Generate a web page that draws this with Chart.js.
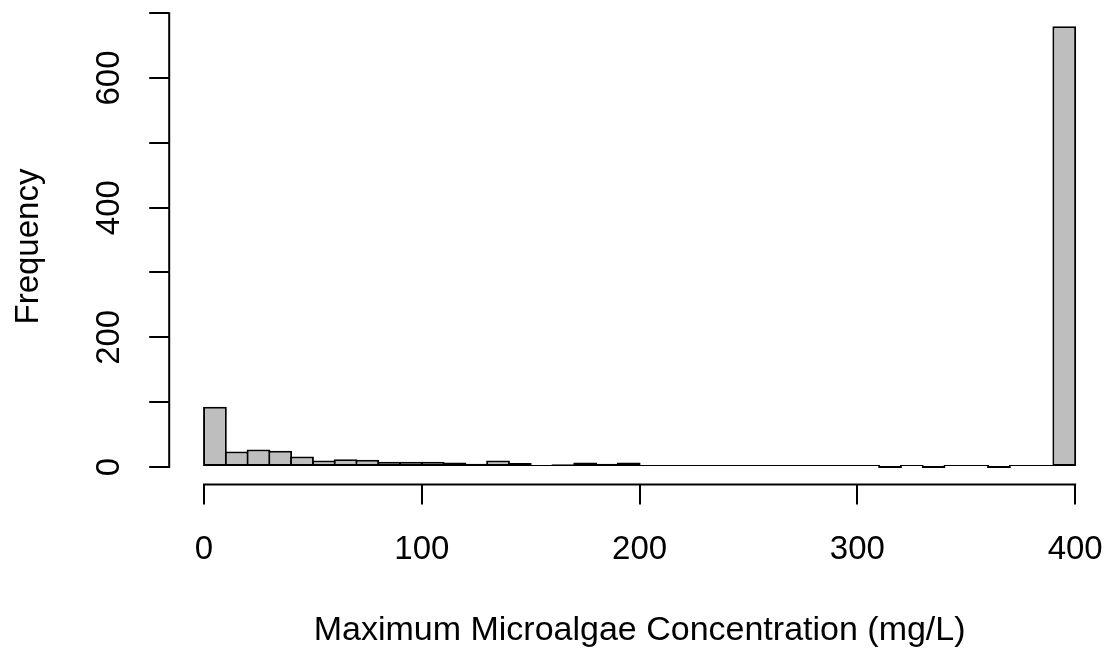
<!DOCTYPE html>
<html>
<head>
<meta charset="utf-8">
<script src="https://cdn.jsdelivr.net/npm/chart.js@4.4.1/dist/chart.umd.min.js"></script>
<style>
  body { margin: 0; background: #fff; }
  canvas { display: block; }
</style>
</head>
<body>
<canvas id="hist-chart" width="1112" height="649"></canvas>
<script>
// histogram bins (10 mg/L wide) and their counts
const binWidth = 10;
const binStarts = [0, 10, 20, 30, 40, 50, 60, 70, 80, 90,
                   100, 110, 120, 130, 140, 150, 160, 170, 180, 190,
                   200, 210, 220, 230, 240, 250, 260, 270, 280, 290,
                   300, 310, 320, 330, 340, 350, 360, 370, 380, 390];
const counts = [93, 24, 27, 25, 16, 10, 12, 11, 8, 8,
                8, 7, 5, 10, 6, 3, 4, 7, 5, 7,
                3, 2, 1, 1, 1, 1, 3, 1, 3, 1,
                1, 0, 3, 0, 2, 2, 0, 2, 2, 680];

const xTicks = [0, 100, 200, 300, 400];
const yTicks = [0, 100, 200, 300, 400, 500, 600, 700];
const yLabelled = [0, 200, 400, 600];

const xTitle = 'Maximum Microalgae Concentration (mg/L)';
const yTitle = 'Frequency';

const fontFamily = '"Liberation Sans", Arial, Helvetica, sans-serif';

// R-like plot region: data range stretched by 4% on each side
const xLo = binStarts[0], xHi = binStarts[binStarts.length - 1] + binWidth;
const xPad = (xHi - xLo) * 0.04;
const yHi = Math.max(...counts);
const yPad = yHi * 0.04;

// axis lines only span the tick range, like base R graphics
const rAxisLines = {
    id: 'rAxisLines',
    afterDraw(chart) {
        const { ctx, chartArea, scales: { x, y } } = chart;
        ctx.save();
        ctx.strokeStyle = '#000';
        ctx.lineWidth = 2;
        ctx.beginPath();
        ctx.moveTo(x.getPixelForValue(xTicks[0]) - 1, chartArea.bottom);
        ctx.lineTo(x.getPixelForValue(xTicks[xTicks.length - 1]) + 1, chartArea.bottom);
        ctx.moveTo(chartArea.left, y.getPixelForValue(yTicks[0]) + 1);
        ctx.lineTo(chartArea.left, y.getPixelForValue(yTicks[yTicks.length - 1]) - 1);
        ctx.stroke();
        ctx.restore();
    }
};

new Chart(document.querySelector('#hist-chart').getContext('2d'), {
    type: 'bar',
    data: {
        datasets: [{
            data: binStarts.map((b, i) => ({ x: b + binWidth / 2, y: counts[i] })),
            backgroundColor: '#bebebe',
            borderColor: '#000',
            borderWidth: 2,
            borderSkipped: false,
            barPercentage: 1.09,
            categoryPercentage: 1,
            minBarLength: 2
        }]
    },
    options: {
        responsive: false,
        animation: false,
        devicePixelRatio: 1,
        layout: { padding: { left: 0, right: 2, top: 8.5, bottom: 0 } },
        plugins: { legend: { display: false }, tooltip: { enabled: false } },
        scales: {
            x: {
                type: 'linear',
                offset: false,
                min: xLo - xPad,
                max: xHi + xPad,
                afterBuildTicks: s => { s.ticks = xTicks.map(v => ({ value: v })); },
                afterFit: s => { s.height = 164.4; s.paddingLeft = 0; s.paddingRight = 0; },
                grid: { offset: false, drawOnChartArea: false, drawTicks: true, tickLength: 20, color: '#000', lineWidth: 2 },
                border: { display: false },
                ticks: {
                    color: '#000',
                    font: { family: fontFamily, size: 33, lineHeight: 1 },
                    padding: 29,
                    maxRotation: 0,
                    autoSkip: false
                },
                title: {
                    display: true,
                    text: xTitle,
                    color: '#000',
                    font: { family: fontFamily, size: 34, lineHeight: 1 },
                    padding: { top: 0, bottom: 1.5 }
                }
            },
            y: {
                type: 'linear',
                min: -yPad,
                max: yHi + yPad,
                afterBuildTicks: s => { s.ticks = yTicks.map(v => ({ value: v })); },
                afterFit: s => { s.width = 169.2; s.paddingTop = 0; s.paddingBottom = 0; },
                grid: { drawOnChartArea: false, drawTicks: true, tickLength: 20, color: '#000', lineWidth: 2 },
                border: { display: false },
                ticks: {
                    color: '#000',
                    font: { family: fontFamily, size: 33, lineHeight: 1 },
                    padding: 12,
                    minRotation: 90,
                    maxRotation: 90,
                    crossAlign: 'center',
                    autoSkip: false,
                    callback: v => yLabelled.includes(v) ? String(v) : ''
                },
                title: {
                    display: true,
                    text: yTitle,
                    color: '#000',
                    font: { family: fontFamily, size: 33, lineHeight: 1 },
                    padding: { top: 12, bottom: 0 }
                }
            }
        }
    },
    plugins: [rAxisLines]
});
</script>
</body>
</html>
